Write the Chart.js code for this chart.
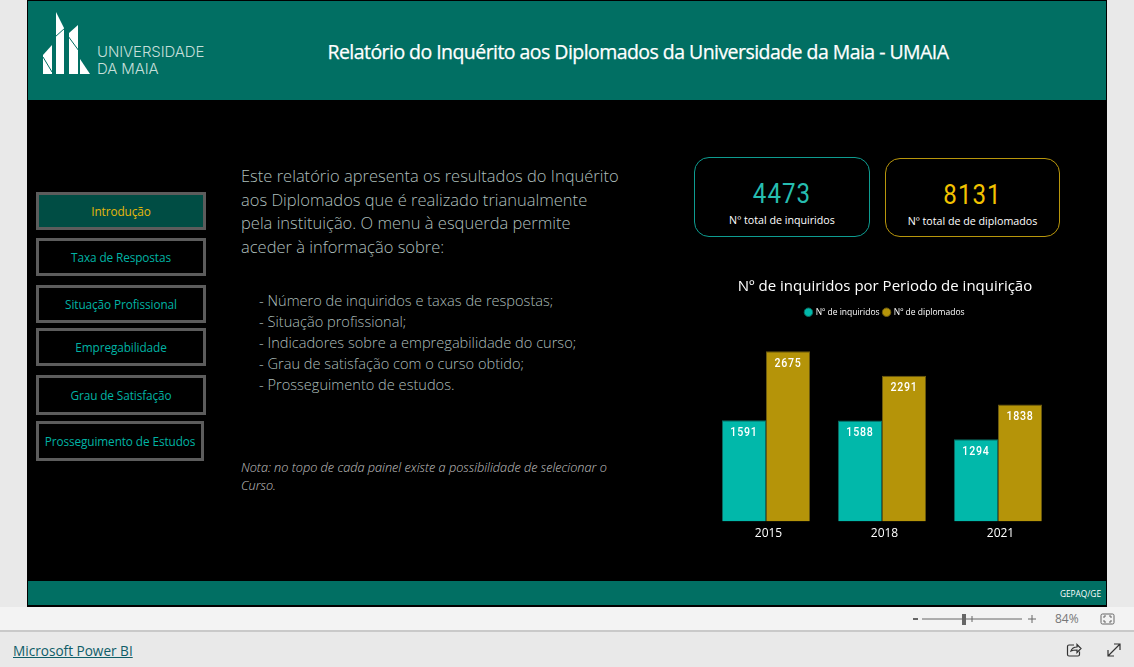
<!DOCTYPE html>
<html lang="pt">
<head>
<meta charset="utf-8">
<title>Relatório do Inquérito aos Diplomados</title>
<script src="https://cdn.jsdelivr.net/npm/chart.js@4"></script>
<style>
html, body { margin: 0; padding: 0; width: 1134px; height: 667px; overflow: hidden; background: #e9e9e9; font-family: "Open Sans", sans-serif; }
.abs { position: absolute; white-space: nowrap; }
#report { position: absolute; left: 27px; top: 0; width: 1080px; height: 607px; background: #000; }
#header { position: absolute; left: 28px; top: 1px; width: 1078px; height: 99px; background: #016f63; }
#footer { position: absolute; left: 28px; top: 581px; width: 1078px; height: 24px; background: #016f63; }
#heading { left: 28px; width: 1220px; top: 38px; text-align: center; color: #fff; font-size: 19.5px; line-height: 28px; letter-spacing: -0.55px; -webkit-text-stroke: 0.25px #fff; }
.logo-text { color: #c5dfda; font-family: Inter, sans-serif; font-weight: 300; font-size: 15px; line-height: 17px; letter-spacing: -0.1px; }
.nav { position: absolute; box-sizing: border-box; border: 3px solid #5c5c5c; color: #00b3a4; font-size: 11.8px; display: flex; align-items: center; justify-content: center; background: #000; letter-spacing: -0.1px; }
.nav.on { background: #004d44; color: #e5b80b; }
.body-text { color: #aebfbc; font-weight: 300; font-size: 16.5px; line-height: 23.7px; }
.list-text { color: #aebfbc; font-weight: 300; font-size: 14.6px; line-height: 21px; }
.note { color: #c4c4c4; font-weight: 300; font-style: italic; font-size: 12.7px; line-height: 18px; }
.card { position: absolute; box-sizing: border-box; border-radius: 15px; border: 1px solid; text-align: center; color: #fff; }
.card b { display: block; font-family: Roboto, sans-serif; font-weight: 400; font-size: 28px; line-height: 32px; margin-top: 20px; letter-spacing: 1.2px; transform: scaleX(0.86); }
.card span { display: block; font-size: 10.7px; line-height: 14px; margin-top: 3px; }
#wrap { position: absolute; left: 690px; top: 270px; width: 390px; height: 280px; }
#bottombar { position: absolute; left: 0; top: 607px; width: 1134px; height: 23px; background: #f3f3f3; border-bottom: 2px solid #c9c9c9; }
#pbi { left: 13px; top: 641px; color: #0f5d68; font-size: 13.6px; line-height: 20px; text-decoration: underline; }
</style>
</head>
<body>
<div id="report"></div>
<div id="header"></div>
<div id="footer"></div>

<svg class="abs" style="left:0;top:0" width="110" height="90" fill="#fff">
  <polygon points="43,55 52,45 52,74 43,74"/>
  <polygon points="56,12 64,28 64,74 56,74"/>
  <polygon points="69,33 78,25 78,74 69,74"/>
  <polygon points="80,59 90,74 80,74"/>
  <g stroke="#016f63" stroke-width="1">
    <line x1="43" y1="57" x2="52" y2="72"/>
    <line x1="55" y1="37" x2="65" y2="28"/>
    <line x1="68" y1="36" x2="79" y2="51"/>
  </g>
</svg>
<div class="abs logo-text" style="left:97px;top:43px">UNIVERSIDADE<br>DA MAIA</div>
<div class="abs" id="heading">Relatório do Inquérito aos Diplomados da Universidade da Maia - UMAIA</div>

<div class="nav on" style="left:36px;top:192px;width:170px;height:38px">Introdução</div>
<div class="nav" style="left:36px;top:238px;width:170px;height:38px">Taxa de Respostas</div>
<div class="nav" style="left:36px;top:285px;width:170px;height:38px">Situação Profissional</div>
<div class="nav" style="left:36px;top:328px;width:170px;height:38px">Empregabilidade</div>
<div class="nav" style="left:36px;top:375px;width:170px;height:40px">Grau de Satisfação</div>
<div class="nav" style="left:36px;top:421px;width:168px;height:40px">Prosseguimento de Estudos</div>

<div class="abs body-text" style="left:241px;top:164px">Este relatório apresenta os resultados do Inquérito<br>aos Diplomados que é realizado trianualmente<br>pela instituição. O menu à esquerda permite<br>aceder à informação sobre:</div>
<div class="abs list-text" style="left:259px;top:290px">- Número de inquiridos e taxas de respostas;<br>- Situação profissional;<br>- Indicadores sobre a empregabilidade do curso;<br>- Grau de satisfação com o curso obtido;<br>- Prosseguimento de estudos.</div>
<div class="abs note" style="left:241px;top:458px">Nota: no topo de cada painel existe a possibilidade de selecionar o<br>Curso.</div>

<div class="card" style="left:694px;top:157px;width:176px;height:80px;border-color:#0e9c90"><b style="color:#26bdb0">4473</b><span>Nº total de inquiridos</span></div>
<div class="card" style="left:885px;top:158px;width:175px;height:79px;border-color:#b8960c"><b style="color:#f2c200">8131</b><span>Nº total de de diplomados</span></div>

<div id="wrap"><canvas id="chart" width="390" height="280"></canvas></div>

<div class="abs" style="right:33px;top:587px;color:#fff;font-size:8.3px;line-height:14px">GEPAQ/GE</div>

<div id="bottombar"></div>
<svg class="abs" style="left:905px;top:608px" width="229" height="22">
  <line x1="17" y1="11" x2="117" y2="11" stroke="#666" stroke-width="1"/>
  <line x1="67" y1="8" x2="67" y2="14" stroke="#666" stroke-width="1"/>
  <rect x="57" y="6" width="4" height="11" fill="#666"/>
  <line x1="8" y1="11" x2="13" y2="11" stroke="#666" stroke-width="2"/>
  <path d="M123 11h8M127 7v8" stroke="#666" stroke-width="1" fill="none"/>
  <rect x="196" y="6" width="13" height="10" rx="1.5" fill="none" stroke="#666"/>
  <path d="M199 10v-2h2M206 10v-2h-2M199 12v2h2M206 12v2h-2" fill="none" stroke="#666"/>
</svg>
<div class="abs" style="left:1055px;top:611px;color:#777;font-size:12px;line-height:16px">84%</div>
<div class="abs" id="pbi">Microsoft Power BI</div>
<svg class="abs" style="left:1060px;top:640px" width="70" height="22" fill="none" stroke="#333" stroke-width="1.2">
  <path d="M14 5h-5a1.5 1.5 0 0 0-1.5 1.5v8a1.5 1.5 0 0 0 1.5 1.5h9a1.5 1.5 0 0 0 1.5-1.5v-3"/>
  <path d="M11 11c1-3 3-4 6-4V4.500l4 4-4 4V10c-3 0-4 0-6 1z"/>
  <path d="M48 16l12-12M54 4h6v6M48 10v6h6"/>
</svg>

<script>
// Chart data
const periods = ['2015', '2018', '2021'];
const inquiridos = [1591, 1588, 1294];
const diplomados = [2675, 2291, 1838];

// Draw the value inside the top of each bar, squeezed a little to look like the narrow original font
const labelSqueeze = 0.85;
const barLabels = {
    id: 'barLabels',
    afterDatasetsDraw(chart) {
        const ctx = chart.ctx;
        ctx.save();
        ctx.scale(labelSqueeze, 1);
        ctx.fillStyle = '#fff';
        ctx.font = '500 12.5px Roboto, sans-serif';
        ctx.letterSpacing = '0.9px';
        ctx.textAlign = 'center';
        ctx.textBaseline = 'middle';
        chart.data.datasets.forEach((dataset, i) => {
            chart.getDatasetMeta(i).data.forEach((bar, j) => {
                ctx.fillText(dataset.data[j], bar.x / labelSqueeze, bar.y + 12.5);
            });
        });
        ctx.restore();
    }
};

// Empty side axes keep the bars in place while title and legend centre on the whole canvas
const blankAxis = (position, width) => ({
    position: position,
    display: true,
    min: 0,
    max: 3065,
    grid: { display: false },
    border: { display: false },
    ticks: { display: false },
    afterFit(scale) { scale.width = width; }
});

new Chart(document.getElementById('chart'), {
    type: 'bar',
    data: {
        labels: periods,
        datasets: [
            { label: 'Nº de inquiridos', data: inquiridos, backgroundColor: '#01b8aa', borderColor: '#0b6b60', borderWidth: 1 },
            { label: 'Nº de diplomados', data: diplomados, backgroundColor: '#b59409', borderColor: '#6b5a10', borderWidth: 1 }
        ]
    },
    options: {
        responsive: false,
        animation: false,
        categoryPercentage: 0.76,
        barPercentage: 1,
        layout: { padding: { top: 8, bottom: 4 } },
        plugins: {
            tooltip: { enabled: false },
            title: {
                display: true,
                text: 'Nº de inquiridos por Periodo de inquirição',
                color: '#fff',
                font: { family: '"Open Sans"', size: 15, weight: '400' },
                padding: { top: 0, bottom: 8 }
            },
            legend: {
                display: true,
                labels: {
                    color: '#fff',
                    font: { family: '"Open Sans"', size: 8.5, weight: '500' },
                    usePointStyle: true,
                    pointStyle: 'circle',
                    boxWidth: 6,
                    boxHeight: 6,
                    padding: 4
                }
            }
        },
        scales: {
            x: {
                grid: { display: false, drawTicks: false },
                border: { display: false },
                ticks: { color: '#fff', font: { family: '"Open Sans"', size: 12 }, padding: 5, labelOffset: 2.5 }
            },
            y: blankAxis('left', 18),
            yRight: blankAxis('right', 24)
        }
    },
    plugins: [barLabels]
});
</script>
</body>
</html>
